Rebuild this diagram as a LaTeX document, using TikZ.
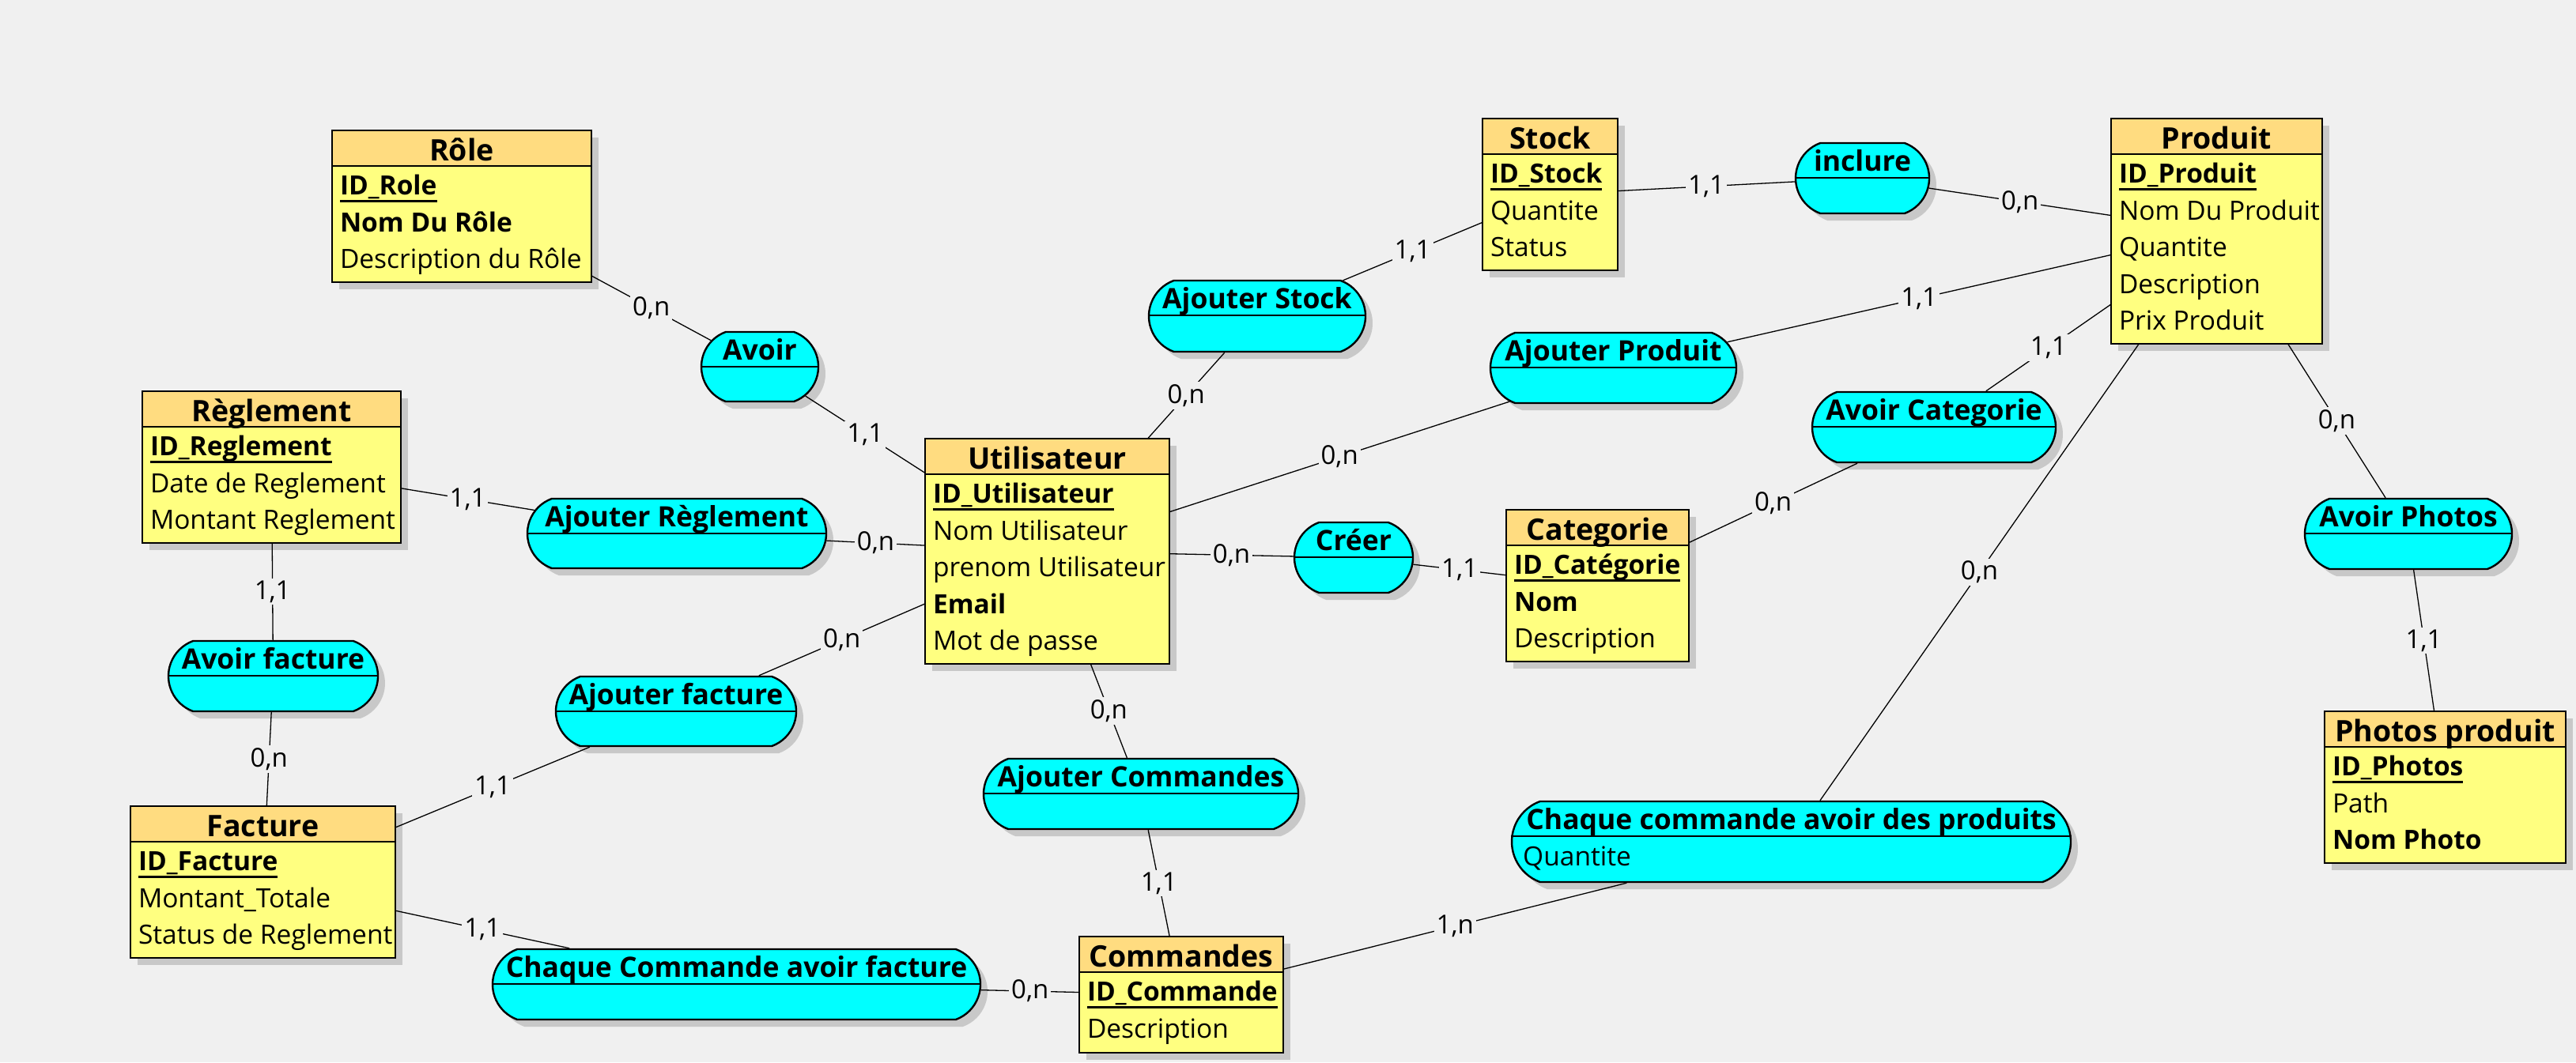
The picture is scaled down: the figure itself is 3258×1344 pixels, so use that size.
\documentclass[tikz,border=0pt]{standalone}
\usepackage{fontspec}
\setmainfont{Open Sans}
\usetikzlibrary{shapes.misc,shadows}
\definecolor{bgc}{RGB}{240,240,240}
\definecolor{headc}{RGB}{255,220,128}
\definecolor{bodyc}{RGB}{255,255,128}
\definecolor{assocc}{RGB}{0,255,255}
\definecolor{shadc}{RGB}{200,200,200}
\tikzset{
  myshadow/.style={drop shadow={shadow xshift=9pt, shadow yshift=-9pt, fill=shadc, opacity=1}},
  entbox/.style={rectangle, inner sep=0pt, fill=bodyc, myshadow},
  boxline/.style={line width=2.4pt},
  divline/.style={line width=2pt},
  assocbox/.style={rounded rectangle, rounded rectangle arc length=140, inner sep=0pt,
    fill=assocc, draw, line width=2.4pt, myshadow},
  enttitle/.style={inner sep=0pt, font=\fontsize{37.5}{44}\selectfont\bfseries},
  astitle/.style={inner sep=0pt, font=\fontsize{35.5}{42}\selectfont\bfseries},
  attrtext/.style={inner sep=0pt, font=\fontsize{33.5}{40}\selectfont},
  link/.style={line width=1.3pt},
  card/.style={fill=bgc, inner sep=3pt, font=\fontsize{33}{40}\selectfont},
}
\newcommand\ulid[1]{\sbox0{\bfseries #1}\rlap{\rule[-9pt]{\wd0}{2.4pt}}\usebox0}
\newcommand\Entity[6]{%
  \node[entbox, minimum width={#4-#2}, minimum height={#5-#3}] (#1) at ({(#2+#4)/2},{(#3+#5)/2}) {};
  \fill[headc] (#1.north west) rectangle ([yshift=-45pt]#1.north east);
  \draw[divline] ([yshift=-45pt]#1.north west) -- ([yshift=-45pt]#1.north east);
  \draw[boxline] (#1.north west) rectangle (#1.south east);
  \node[enttitle, anchor=base] (#1-t) at ([yshift=-39pt]#1.north) {#6};
}
\newcommand\Attr[3]{%
  \node[attrtext, anchor=base west] (#1-#2) at ([xshift=10pt,yshift={-82-46.5*(#2-1)}]#1.north west) {#3};
}
\newcommand\Assoc[6]{%
  \node[assocbox, minimum width={#4-#2}, minimum height={#5-#3}] (#1) at ({(#2+#4)/2},{(#3+#5)/2}) {};
  \draw[divline] ([yshift={(#5-#3)/2-44}]#1.west) -- ([yshift={(#5-#3)/2-44}]#1.east);
  \node[astitle, anchor=base] (#1-t) at ([yshift=-37pt]#1.north) {#6};
}
\begin{document}
\begin{tikzpicture}[x=1pt,y=-1pt]
\useasboundingbox (0,0) rectangle (3258,1344);
\fill[bgc] (0,0) rectangle (3258,1344);

% Entities
\Entity{role}{420}{165}{748}{357}{Rôle}
\Attr{role}{1}{\ulid{ID\_Role}}
\Attr{role}{2}{\textbf{Nom Du Rôle}}
\Attr{role}{3}{Description du Rôle}

\Entity{regl}{180}{495}{507}{687}{Règlement}
\Attr{regl}{1}{\ulid{ID\_Reglement}}
\Attr{regl}{2}{Date de Reglement}
\Attr{regl}{3}{Montant Reglement}

\Entity{fact}{165}{1020}{500}{1212}{Facture}
\Attr{fact}{1}{\ulid{ID\_Facture}}
\Attr{fact}{2}{Montant\_Totale}
\Attr{fact}{3}{Status de Reglement}

\Entity{util}{1170}{555}{1479}{840}{Utilisateur}
\Attr{util}{1}{\ulid{ID\_Utilisateur}}
\Attr{util}{2}{Nom Utilisateur}
\Attr{util}{3}{prenom Utilisateur}
\Attr{util}{4}{\textbf{Email}}
\Attr{util}{5}{Mot de passe}

\Entity{stock}{1875}{150}{2046}{342}{Stock}
\Attr{stock}{1}{\ulid{ID\_Stock}}
\Attr{stock}{2}{Quantite}
\Attr{stock}{3}{Status}

\Entity{prod}{2670}{150}{2937}{435}{Produit}
\Attr{prod}{1}{\ulid{ID\_Produit}}
\Attr{prod}{2}{Nom Du Produit}
\Attr{prod}{3}{Quantite}
\Attr{prod}{4}{Description}
\Attr{prod}{5}{Prix Produit}

\Entity{cat}{1905}{645}{2136}{837}{Categorie}
\Attr{cat}{1}{\ulid{ID\_Catégorie}}
\Attr{cat}{2}{\textbf{Nom}}
\Attr{cat}{3}{Description}

\Entity{cmd}{1365}{1185}{1623}{1332}{Commandes}
\Attr{cmd}{1}{\ulid{ID\_Commande}}
\Attr{cmd}{2}{Description}

\Entity{photo}{2940}{900}{3245}{1092}{Photos produit}
\Attr{photo}{1}{\ulid{ID\_Photos}}
\Attr{photo}{2}{Path}
\Attr{photo}{3}{\textbf{Nom Photo}}

% Associations
\Assoc{avoir}{887}{420}{1035}{508}{Avoir}
\Assoc{ajstock}{1453}{355}{1727}{445}{Ajouter Stock}
\Assoc{inclure}{2271}{181}{2440}{270}{inclure}
\Assoc{ajprod}{1885}{421}{2196}{510}{Ajouter Produit}
\Assoc{avcat}{2292}{496}{2600}{585}{Avoir Categorie}
\Assoc{ajregl}{667}{631}{1045}{719}{Ajouter Règlement}
\Assoc{creer}{1637}{661}{1787}{750}{Créer}
\Assoc{avphoto}{2915}{631}{3177}{720}{Avoir Photos}
\Assoc{avfact}{213}{811}{478}{900}{Avoir facture}
\Assoc{ajfact}{703}{856}{1007}{944}{Ajouter facture}
\Assoc{ajcmd}{1244}{960}{1642}{1049}{Ajouter Commandes}
\Assoc{ccadp}{1912}{1014}{2619}{1116}{Chaque commande avoir des produits}
\node[attrtext, anchor=base west] (ccadp-1) at (1926,1095) {Quantite};
\Assoc{ccaf}{623}{1201}{1240}{1290}{Chaque Commande avoir facture}

% Links
\draw[link] (role) -- node[card] (c1) {0,n} (avoir);
\draw[link] (avoir) -- node[card] (c2) {1,1} (util);
\draw[link] (ajstock) -- node[card] (c3) {1,1} (stock);
\draw[link] (ajstock) -- node[card] (c4) {0,n} (util);
\draw[link] (stock) -- node[card] (c5) {1,1} (inclure);
\draw[link] (inclure) -- node[card] (c6) {0,n} (prod);
\draw[link] (ajprod) -- node[card] (c7) {1,1} (prod);
\draw[link] (ajprod) -- node[card] (c8) {0,n} (util);
\draw[link] (avcat) -- node[card] (c9) {1,1} (prod);
\draw[link] (avcat) -- node[card] (c10) {0,n} (cat);
\draw[link] (util) -- node[card] (c11) {0,n} (creer);
\draw[link] (creer) -- node[card] (c12) {1,1} (cat);
\draw[link] (ajregl) -- node[card] (c13) {0,n} (util);
\draw[link] (regl) -- node[card] (c14) {1,1} (ajregl);
\draw[link] (regl) -- node[card] (c15) {1,1} (avfact);
\draw[link] (avfact) -- node[card] (c16) {0,n} (fact);
\draw[link] (util) -- node[card] (c17) {0,n} (ajfact);
\draw[link] (ajfact) -- node[card] (c18) {1,1} (fact);
\draw[link] (util) -- node[card] (c19) {0,n} (ajcmd);
\draw[link] (ajcmd) -- node[card] (c20) {1,1} (cmd);
\draw[link] (fact) -- node[card] (c21) {1,1} (ccaf);
\draw[link] (ccaf) -- node[card] (c22) {0,n} (cmd);
\draw[link] (cmd) -- node[card] (c23) {1,n} (ccadp);
\draw[link] (ccadp) -- node[card] (c24) {0,n} (prod);
\draw[link] (prod) -- node[card] (c25) {0,n} (avphoto);
\draw[link] (avphoto) -- node[card] (c26) {1,1} (photo);
\end{tikzpicture}
\end{document}
